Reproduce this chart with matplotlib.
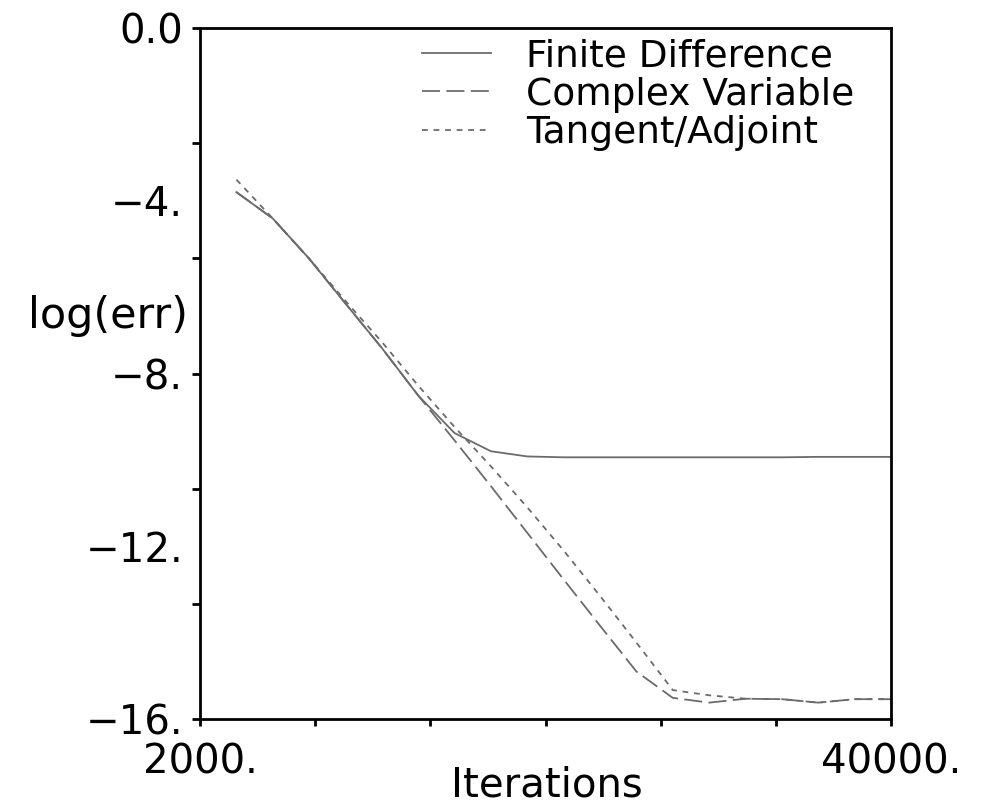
import numpy as np
import matplotlib
matplotlib.use("Agg")
from matplotlib import pyplot as plt

# iterations and log(err)
iters = [4000, 6000, 8000, 10000, 12000, 14000, 16000, 18000, 20000, 22000,
         24000, 26000, 28000, 30000, 32000, 34000, 36000, 38000, 40000]
finite_diff = [-3.80, -4.41, -5.34, -6.38, -7.41, -8.51, -9.38, -9.80, -9.92, -9.94,
               -9.94, -9.94, -9.94, -9.94, -9.94, -9.94, -9.93, -9.93, -9.93]
complex_var = [-3.80, -4.41, -5.34, -6.38, -7.41, -8.51, -9.55, -10.61, -11.69, -12.77,
               -13.84, -14.90, -15.51, -15.62, -15.53, -15.54, -15.62, -15.54, -15.54]
tangent_adj = [-3.51, -4.41, -5.34, -6.32, -7.27, -8.28, -9.24, -10.15, -11.10, -12.10,
               -13.15, -14.23, -15.33, -15.45, -15.53, -15.54, -15.62, -15.54, -15.54]

x_ticks = np.linspace(2000, 40000, 7)
x_labels = ['2000.', '', '', '', '', '', '40000.']
y_ticks = np.linspace(-16, 0, 7)
y_label_pos = [-16, -12, -8, -4, 0]
y_labels = ['\u221216.', '\u221212.', '\u22128.', '\u22124.', '0.0']

plt.rcParams['font.family'] = ['DejaVu Sans']

fig = plt.figure(figsize=(9.83, 8.07), dpi=100)
ax = fig.add_axes([0.2035, 0.1090, 0.7029, 0.8563])

lc = '0.42'
lw = 1.3
ax.plot(iters, finite_diff, color=lc, lw=lw, label='Finite Difference')
ax.plot(iters, complex_var, color=lc, lw=lw, dashes=(10, 3.5), label='Complex Variable')
ax.plot(iters, tangent_adj, color=lc, lw=lw, dashes=(3.2, 3.2), label='Tangent/Adjoint')

ax.set_xlim(2000, 40000)
ax.set_ylim(-16, 0)

for s in ax.spines.values():
    s.set_linewidth(2)

ax.set_xticks(x_ticks, labels=x_labels)
ax.tick_params(axis='x', direction='out', length=5, width=2, pad=12, labelsize=29)

ax.yaxis.remove_overlapping_locs = False
ax.set_yticks(y_ticks, labels=[''] * 7)
ax.set_yticks(y_label_pos, labels=y_labels, minor=True)
ax.tick_params(axis='y', which='major', direction='out', length=6, width=2)
ax.tick_params(axis='y', which='minor', length=0, pad=12, labelsize=29)

ax.set_xlabel('Iterations', fontsize=29)
ax.xaxis.set_label_coords(0.502, -0.0667)
ax.set_ylabel('log(err)', fontsize=31, rotation=0, ha='right', va='center')
ax.yaxis.set_label_coords(-0.017, 0.583)

ax.legend(loc='upper left', bbox_to_anchor=(0.321, 0.985), frameon=False,
          fontsize=27, handlelength=1.84, handletextpad=0.95, labelspacing=0.06,
          borderpad=0, borderaxespad=0)

fig.savefig('out.png', dpi=100)
